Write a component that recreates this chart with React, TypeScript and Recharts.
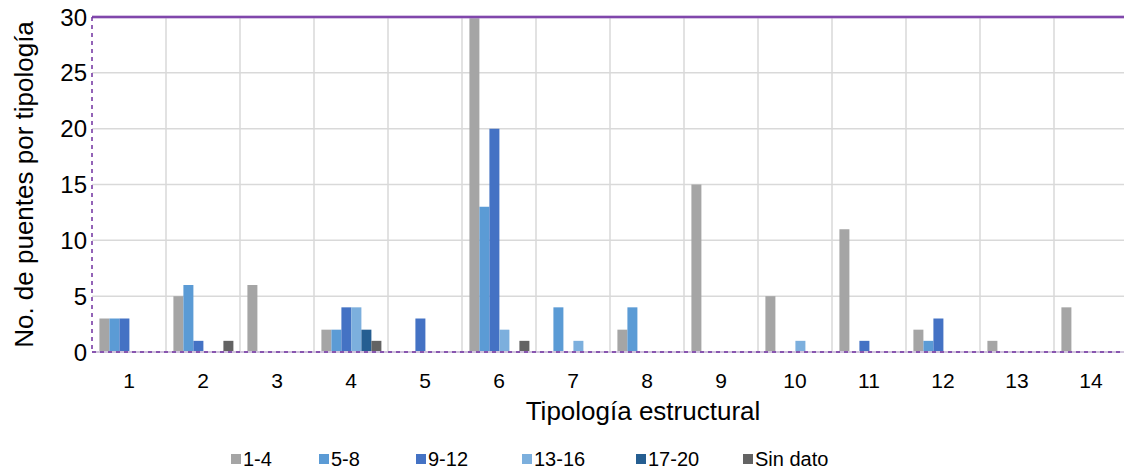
import React from 'react';
import { BarChart, Bar, XAxis, YAxis, CartesianGrid, ReferenceLine } from 'recharts';

const categories = ['1', '2', '3', '4', '5', '6', '7', '8', '9', '10', '11', '12', '13', '14'];
const serie1a4 = [3, 5, 6, 2, 0, 30, 0, 2, 15, 5, 11, 2, 1, 4];
const serie5a8 = [3, 6, 0, 2, 0, 13, 4, 4, 0, 0, 0, 1, 0, 0];
const serie9a12 = [3, 1, 0, 4, 3, 20, 0, 0, 0, 0, 1, 3, 0, 0];
const serie13a16 = [0, 0, 0, 4, 0, 2, 1, 0, 0, 1, 0, 0, 0, 0];
const serie17a20 = [0, 0, 0, 2, 0, 0, 0, 0, 0, 0, 0, 0, 0, 0];
const sinDato = [0, 1, 0, 1, 0, 1, 0, 0, 0, 0, 0, 0, 0, 0];
const yTicks = [0, 5, 10, 15, 20, 25, 30];

const SERIES = [
    { key: 's1', name: '1-4', values: serie1a4, color: '#A5A5A5' },
    { key: 's2', name: '5-8', values: serie5a8, color: '#5B9BD5' },
    { key: 's3', name: '9-12', values: serie9a12, color: '#4472C4' },
    { key: 's4', name: '13-16', values: serie13a16, color: '#7CAFDD' },
    { key: 's5', name: '17-20', values: serie17a20, color: '#255E91' },
    { key: 's6', name: 'Sin dato', values: sinDato, color: '#636363' },
];

const data = categories.map((cat, i) => {
    const row: Record<string, string | number> = { cat };
    SERIES.forEach((s) => { row[s.key] = s.values[i]; });
    return row;
});

const FONT = '"Liberation Sans", Arial, sans-serif';
const PURPLE = '#7030A0';

// x position of each legend swatch
const LEGEND_X = [231, 319, 416, 522, 636, 743];

export default function App() {
    return (
        <div style={{ position: 'absolute', left: 0, top: 0, width: 1124, height: 470, overflow: 'hidden', background: '#fff', fontFamily: FONT }}>
            <BarChart
                width={1128}
                height={470}
                data={data}
                margin={{ top: 17, right: 0, bottom: 0, left: 0 }}
                barCategoryGap="10%"
                barGap={0}
            >
                <CartesianGrid
                    stroke="#D9D9D9"
                    strokeWidth={1.5}
                    verticalCoordinatesGenerator={({ offset }: any) =>
                        Array.from({ length: 14 }, (_, i) => offset.left + ((i + 1) * offset.width) / 14)
                    }
                />
                <ReferenceLine y={0} stroke="#D0C4DC" strokeWidth={2} />
                {SERIES.map((s) => (
                    <Bar key={s.key} dataKey={s.key} name={s.name} fill={s.color} isAnimationActive={false} />
                ))}
                <ReferenceLine y={30} stroke="#B08ACB" strokeWidth={3} />
                <ReferenceLine y={30} stroke={PURPLE} strokeWidth={1.5} />
                <XAxis
                    dataKey="cat"
                    height={118}
                    tickSize={0}
                    tickMargin={21}
                    axisLine={{ stroke: PURPLE, strokeWidth: 1.5, strokeDasharray: '4 4' }}
                    tick={{ fontSize: 21, fill: '#000', fontFamily: FONT }}
                    label={{
                        content: () => (
                            <text x={643} y={420} textAnchor="middle" fontSize={26} fill="#000" fontFamily={FONT}>
                                Tipología estructural
                            </text>
                        ),
                    }}
                />
                <YAxis
                    width={92}
                    domain={[0, 30]}
                    ticks={yTicks}
                    tickSize={0}
                    tickMargin={5}
                    axisLine={{ stroke: PURPLE, strokeWidth: 1.5, strokeDasharray: '4 4' }}
                    tick={{ fontSize: 24, fill: '#000', fontFamily: FONT }}
                    label={{
                        content: ({ viewBox }: any) => {
                            const cy = viewBox.y + viewBox.height / 2;
                            return (
                                <text x={24} y={cy} transform={`rotate(-90 24 ${cy})`} textAnchor="middle" dominantBaseline="central" fontSize={26} fill="#000" fontFamily={FONT}>
                                    No. de puentes por tipología
                                </text>
                            );
                        },
                    }}
                />
            </BarChart>
            {SERIES.map((s, i) => (
                <div key={s.key} style={{ position: 'absolute', left: LEGEND_X[i], top: 448, display: 'flex', alignItems: 'center', fontSize: 20, color: '#000', lineHeight: '22px', whiteSpace: 'nowrap' }}>
                    <span style={{ width: 10, height: 10, background: s.color, marginRight: 2, display: 'inline-block' }} />
                    <span>{s.name}</span>
                </div>
            ))}
        </div>
    );
}
